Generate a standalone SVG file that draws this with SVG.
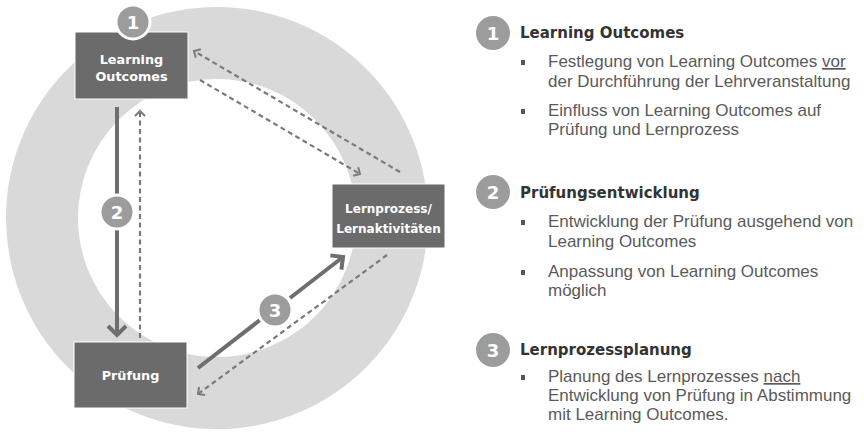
<svg xmlns="http://www.w3.org/2000/svg" width="864" height="432" viewBox="0 0 864 432">
<style>
.box{fill:#6b6b6b;stroke:#ffffff;stroke-width:1}
.nt{font-family:"DejaVu Sans","Liberation Sans",sans-serif;font-weight:bold;font-size:12px;fill:#ffffff;text-anchor:middle}
.nb{font-size:12.8px}
.num{fill:#9c9c9c;stroke:#ffffff;stroke-width:3}
.nn{font-family:"DejaVu Sans","Liberation Sans",sans-serif;font-weight:bold;font-size:18px;fill:#ffffff;text-anchor:middle}
.solid{stroke:#6e6e6e;stroke-width:4;fill:none}
.dash{stroke:#7a7a7a;stroke-width:2.2;fill:none;stroke-dasharray:5 3.5}
.h{font-family:"DejaVu Sans","Liberation Sans",sans-serif;font-weight:bold;font-size:15px;fill:#333333}
.t{font-family:"Liberation Sans",Arial,sans-serif;font-size:17px;fill:#5a5a5a}
.b{fill:#555555}
</style>
<defs>
<marker id="as" markerUnits="userSpaceOnUse" markerWidth="24" markerHeight="24" refX="12" refY="12" orient="auto" viewBox="0 0 24 24">
<path d="M3,3 L12,12 L3,21" fill="none" stroke="#6e6e6e" stroke-width="4"/>
</marker>
<marker id="ad" markerUnits="userSpaceOnUse" markerWidth="16" markerHeight="16" refX="8" refY="8" orient="auto" viewBox="0 0 16 16">
<path d="M3,3 L8,8 L3,13" fill="none" stroke="#7a7a7a" stroke-width="2"/>
</marker>
</defs>
<rect width="864" height="432" fill="#ffffff"/>
<g id="ring">
<circle cx="217" cy="218" r="175" fill="none" stroke="#d9d9d9" stroke-width="72"/>
</g>
<g id="connectors">
<line class="solid" x1="117" y1="107" x2="117" y2="194"/>
<line class="solid" x1="117" y1="230" x2="117" y2="335" marker-end="url(#as)"/>
<line class="dash" x1="140" y1="338" x2="140" y2="111" marker-end="url(#ad)"/>
<line class="dash" x1="200" y1="80" x2="360" y2="174" marker-end="url(#ad)"/>
<line class="dash" x1="400" y1="172" x2="194" y2="51" marker-end="url(#ad)"/>
<line class="solid" x1="198" y1="368" x2="260" y2="320"/>
<line class="solid" x1="290" y1="298" x2="343" y2="257" marker-end="url(#as)"/>
<line class="dash" x1="387" y1="255" x2="198" y2="394" marker-end="url(#ad)"/>
</g>
<g id="node-lo">
<rect class="box" x="75" y="32" width="113" height="67"/>
<text class="nt nb" x="131.5" y="64">Learning</text>
<text class="nt nb" x="131.5" y="81">Outcomes</text>
<circle class="num" cx="133" cy="22" r="17"/>
<text class="nn" x="133" y="28.5">1</text>
</g>
<g id="node-lp">
<rect class="box" x="332" y="184" width="113" height="64"/>
<text class="nt" x="388.5" y="213">Lernprozess/</text>
<text class="nt" x="388.5" y="233">Lernaktivitäten</text>
</g>
<g id="node-pr">
<rect class="box" x="74" y="342" width="113" height="66"/>
<text class="nt nb" x="130.5" y="380">Prüfung</text>
</g>
<g id="num2">
<circle class="num" cx="117" cy="212" r="17"/>
<text class="nn" x="117" y="218.5">2</text>
</g>
<g id="num3">
<circle class="num" cx="275" cy="310" r="17"/>
<text class="nn" x="275" y="316.5">3</text>
</g>
<g id="legend">
<circle fill="#9c9c9c" cx="493" cy="33" r="17"/>
<text class="nn" x="493" y="39.5">1</text>
<text class="h" x="520" y="38">Learning Outcomes</text>
<rect class="b" x="521" y="60" width="4" height="5"/>
<text class="t" x="548" y="67">Festlegung von Learning Outcomes <tspan text-decoration="underline">vor</tspan></text>
<text class="t" x="548" y="87">der Durchführung der Lehrveranstaltung</text>
<rect class="b" x="521" y="109" width="4" height="5"/>
<text class="t" x="548" y="116">Einfluss von Learning Outcomes auf</text>
<text class="t" x="548" y="135">Prüfung und Lernprozess</text>
<circle fill="#9c9c9c" cx="493" cy="192" r="17"/>
<text class="nn" x="493" y="198.5">2</text>
<text class="h" x="520" y="198">Prüfungsentwicklung</text>
<rect class="b" x="521" y="220" width="4" height="5"/>
<text class="t" x="548" y="227">Entwicklung der Prüfung ausgehend von</text>
<text class="t" x="548" y="247">Learning Outcomes</text>
<rect class="b" x="521" y="270" width="4" height="5"/>
<text class="t" x="548" y="277">Anpassung von Learning Outcomes</text>
<text class="t" x="548" y="296">möglich</text>
<circle fill="#9c9c9c" cx="493" cy="350" r="17"/>
<text class="nn" x="493" y="356.5">3</text>
<text class="h" x="520" y="355">Lernprozessplanung</text>
<rect class="b" x="521" y="375" width="4" height="5"/>
<text class="t" x="548" y="382">Planung des Lernprozesses <tspan text-decoration="underline">nach</tspan></text>
<text class="t" x="548" y="401">Entwicklung von Prüfung in Abstimmung</text>
<text class="t" x="548" y="420">mit Learning Outcomes.</text>
</g>
</svg>
